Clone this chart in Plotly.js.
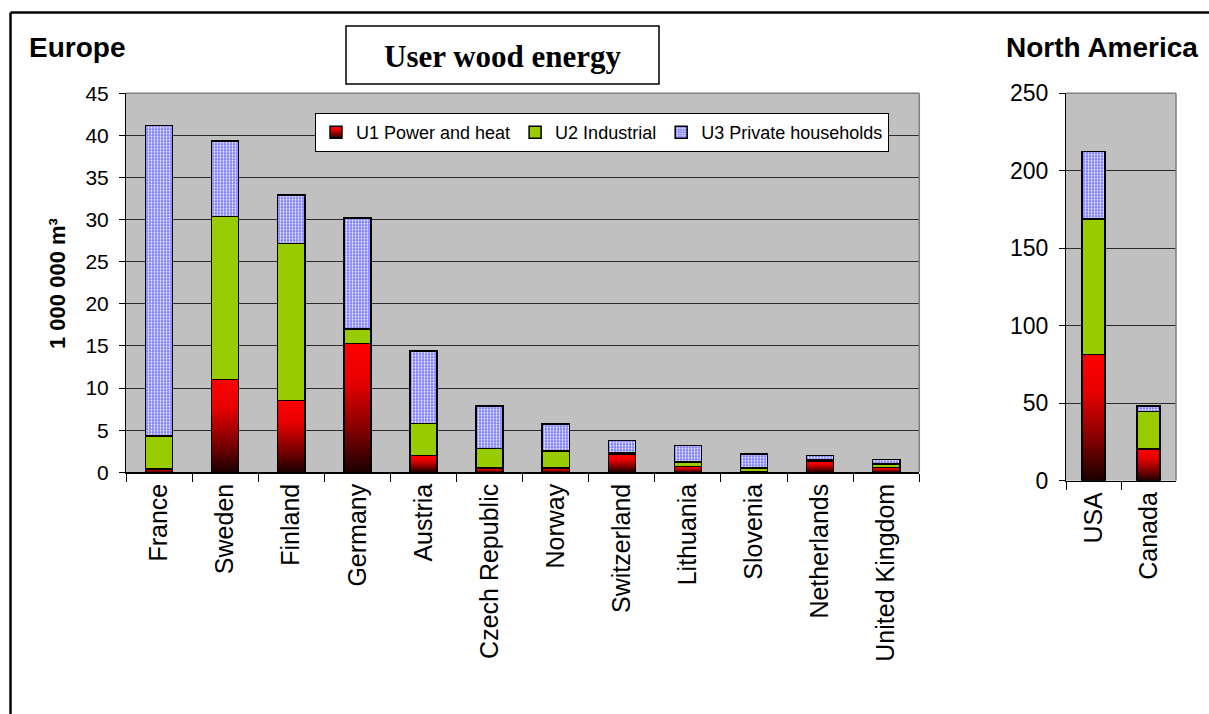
<!DOCTYPE html>
<html>
<head>
<meta charset="utf-8">
<script src="https://cdn.plot.ly/plotly-3.0.1.min.js"></script>
<style>html,body{margin:0;padding:0;background:#fff}#chart{width:1209px;height:714px}</style>
</head>
<body>
<div id="chart"></div>
<script>
// ---- data (1 000 000 m³) ----
const europeCountries = ["France","Sweden","Finland","Germany","Austria","Czech Republic","Norway","Switzerland","Lithuania","Slovenia","Netherlands","United Kingdom"];
const europeU1 = [0.4, 11.0, 8.5, 15.3, 2.0, 0.5, 0.5, 2.1, 0.7, 0.05, 1.35, 0.6];
const europeU2 = [3.9, 19.4, 18.65, 1.7, 3.8, 2.3, 2.05, 0.2, 0.5, 0.45, 0.15, 0.4];
const europeU3 = [36.9, 8.95, 5.8, 13.2, 8.6, 5.1, 3.2, 1.45, 2.0, 1.7, 0.5, 0.5];

const naCountries = ["USA","Canada"];
const naU1 = [81.6, 20.5];
const naU2 = [87.3, 24.0];
const naU3 = [43.7, 3.7];

const seriesNames = ["U1 Power and heat","U2 Industrial","U3 Private households"];
const europeTicks = [0,5,10,15,20,25,30,35,40,45];
const naTicks = [0,50,100,150,200,250];

// ---- styling ----
const W = 1209, H = 714;
const px = v => v / W;
const py = v => (H - v) / H;
const FONT = "Liberation Sans, Arial, sans-serif";
const line = {color: "#000", width: 1.5};
const styles = [
  {color: "#ff0000", line: line},
  {color: "#99cc00", line: line},
  {color: "#8080ff", line: line, pattern: {shape: ".", bgcolor: "#8080ff", fgcolor: "#ffffff", size: 3, solidity: 0.3}}
];

function bars(x, ys, xa, ya, legend) {
  return ys.map((y, i) => ({
    type: "bar", x: x, y: y, name: seriesNames[i], xaxis: xa, yaxis: ya,
    showlegend: legend, legendgroup: "g" + i, width: 0.41,
    meta: i === 0 ? "grad" : "",
    marker: Object.assign({}, styles[i]), hoverinfo: "none"
  }));
}

const data = [
  ...bars(europeCountries, [europeU1, europeU2, europeU3], "x", "y", true),
  ...bars(naCountries, [naU1, naU2, naU3], "x2", "y2", false)
];

const yCommon = {
  showgrid: true, gridcolor: "#2b2b2b", gridwidth: 1,
  showline: true, linecolor: "#000", linewidth: 1,
  ticks: "outside", ticklen: 6, tickcolor: "#000", tickwidth: 1,
  tickfont: {family: FONT, size: 21, color: "#000"},
  ticklabelstandoff: 6, zeroline: false, fixedrange: true
};
const xCommon = {
  type: "category", showline: true, linecolor: "#000", linewidth: 1.5,
  ticks: "outside", tickson: "boundaries", ticklen: 8, tickcolor: "#000", tickwidth: 1,
  tickangle: -90, tickfont: {family: FONT, size: 25, color: "#000"},
  showgrid: false, zeroline: false, fixedrange: true
};

const layout = {
  width: W, height: H,
  margin: {l: 0, r: 0, t: 0, b: 0},
  paper_bgcolor: "#ffffff", plot_bgcolor: "#c0c0c0",
  barmode: "stack",
  showlegend: true,
  legend: {
    orientation: "h", x: px(315), y: py(113), xanchor: "left", yanchor: "top",
    bgcolor: "#ffffff", bordercolor: "#000", borderwidth: 1,
    font: {family: FONT, size: 18, color: "#000"}, traceorder: "normal",
    itemwidth: 30, tracegroupgap: 0
  },
  xaxis: Object.assign({}, xCommon, {domain: [px(126), px(919.3)], anchor: "y"}),
  yaxis: Object.assign({}, yCommon, {domain: [py(472.3), py(93.3)], range: [0, 45], tickvals: europeTicks, anchor: "x"}),
  xaxis2: Object.assign({}, xCommon, {domain: [px(1066), px(1176)], anchor: "y2"}),
  yaxis2: Object.assign({}, yCommon, {domain: [py(480.7), py(93.3)], range: [0, 250], tickvals: naTicks, anchor: "x2",
    tickfont: {family: FONT, size: 23, color: "#000"}}),
  shapes: [
    // outer frame
    {type: "line", xref: "paper", yref: "paper", x0: px(10.5), x1: 1.01, y0: py(12.5), y1: py(12.5), line: {color: "#000", width: 2.5}},
    {type: "line", xref: "paper", yref: "paper", x0: px(10.5), x1: px(10.5), y0: py(12.5), y1: -0.01, line: {color: "#000", width: 2.5}},
    // plot-area top/right borders
    {type: "line", xref: "x domain", yref: "y domain", x0: 0, x1: 1, y0: 1, y1: 1, line: {color: "#808080", width: 1.5}, layer: "above"},
    {type: "line", xref: "x domain", yref: "y domain", x0: 1, x1: 1, y0: 0, y1: 1, line: {color: "#808080", width: 1.5}, layer: "above"},
    {type: "line", xref: "x2 domain", yref: "y2 domain", x0: 0, x1: 1, y0: 1, y1: 1, line: {color: "#808080", width: 1.5}, layer: "above"},
    {type: "line", xref: "x2 domain", yref: "y2 domain", x0: 1, x1: 1, y0: 0, y1: 1, line: {color: "#808080", width: 1.5}, layer: "above"},
    // title box
    {type: "rect", xref: "paper", yref: "paper", x0: px(346), x1: px(659), y0: py(84), y1: py(26), line: {color: "#000", width: 1.5}, fillcolor: "#ffffff"}
  ],
  annotations: [
    {text: "<b>User wood energy</b>", xref: "paper", yref: "paper", x: px(502.5), y: py(56), xanchor: "center", yanchor: "middle", showarrow: false,
     font: {family: "Liberation Serif, Times New Roman, serif", size: 31, color: "#000"}},
    {text: "<b>Europe</b>", xref: "paper", yref: "paper", x: px(27), y: py(48), xanchor: "left", yanchor: "middle", showarrow: false,
     font: {family: FONT, size: 28, color: "#000"}},
    {text: "<b>North America</b>", xref: "paper", yref: "paper", x: px(1004), y: py(48), xanchor: "left", yanchor: "middle", showarrow: false,
     font: {family: FONT, size: 28, color: "#000"}},
    {text: "<b>1 000 000 m³</b>", xref: "paper", yref: "paper", x: px(57), y: py(284), xanchor: "center", yanchor: "middle", textangle: -90, showarrow: false,
     font: {family: FONT, size: 22, color: "#000"}}
  ]
};

Plotly.newPlot("chart", data, layout, {staticPlot: true, displayModeBar: false}).then(gd => {
  const svg = gd.querySelector("svg.main-svg");
  const ns = "http://www.w3.org/2000/svg";
  let defs = svg.querySelector("defs");
  if (!defs) { defs = document.createElementNS(ns, "defs"); svg.insertBefore(defs, svg.firstChild); }
  const g = document.createElementNS(ns, "linearGradient");
  g.setAttribute("id", "u1grad");
  g.setAttribute("x1", "0"); g.setAttribute("y1", "0"); g.setAttribute("x2", "0"); g.setAttribute("y2", "1");
  [["0", "#ff0000"], ["0.3", "#e80000"], ["0.7", "#7a0000"], ["1", "#1a0000"]].forEach(([o, c]) => {
    const s = document.createElementNS(ns, "stop");
    s.setAttribute("offset", o); s.setAttribute("stop-color", c);
    g.appendChild(s);
  });
  defs.appendChild(g);
  gd.querySelectorAll("g.trace.bars").forEach(t => {
    const d = t.__data__;
    const tr = d && (d[0] && d[0].trace ? d[0].trace : (d[0] && d[0][0] ? d[0][0].trace : null));
    if (tr && tr.meta === "grad") t.querySelectorAll("path").forEach(p => { p.style.fill = "url(#u1grad)"; });
  });
  gd.querySelectorAll(".legend g.traces").forEach(t => {
    const d = t.__data__;
    let tr = null;
    if (d && d[0]) tr = d[0].trace || (d[0][0] && d[0][0].trace);
    if (tr && tr.meta === "grad") t.querySelectorAll(".legendpoints path").forEach(p => { p.style.fill = "url(#u1grad)"; });
  });
});
</script>
</body>
</html>
